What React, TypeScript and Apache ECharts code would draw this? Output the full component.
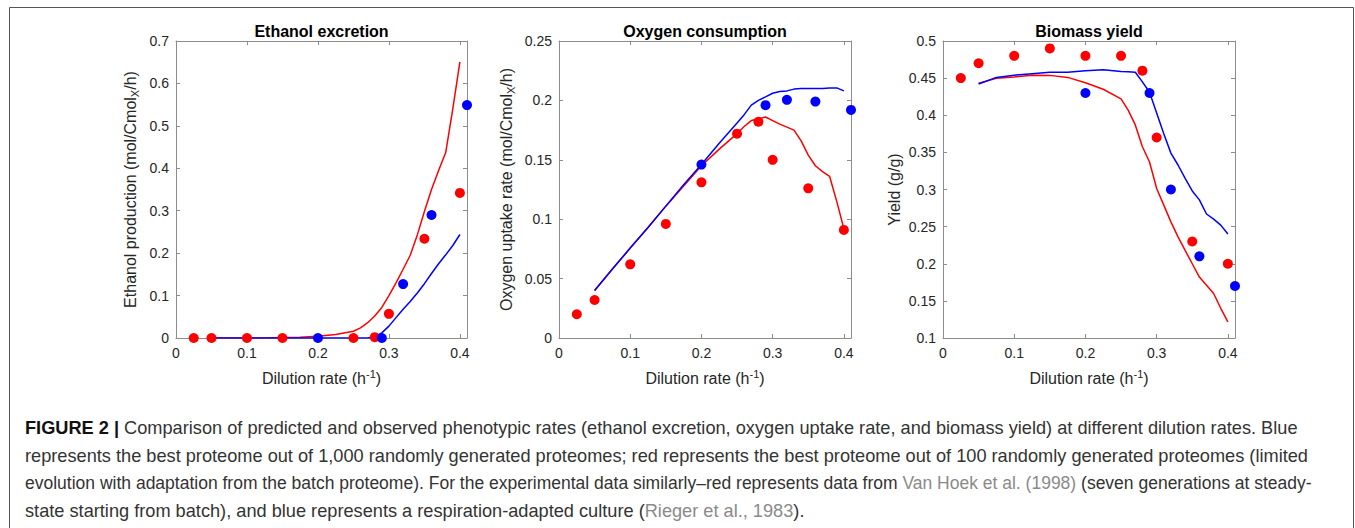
import React, { useEffect, useRef } from "react";
import * as echarts from "echarts";

// ---------- data ----------
const modelX = [0.05, 0.075, 0.1, 0.125, 0.15, 0.175, 0.2, 0.225, 0.25, 0.26, 0.27, 0.28, 0.29, 0.3, 0.31, 0.32, 0.33, 0.34, 0.35, 0.36, 0.37, 0.38, 0.39, 0.4];

// Ethanol excretion
const ethRedModel = [0, 0, 0, 0, 0.001, 0.002, 0.004, 0.008, 0.016, 0.024, 0.036, 0.052, 0.072, 0.1, 0.13, 0.162, 0.195, 0.243, 0.298, 0.35, 0.395, 0.437, 0.54, 0.651];
const ethBlueModel = [0, 0, 0, 0, 0, 0, 0, 0, 0, 0, 0, 0.003, 0.012, 0.028, 0.048, 0.068, 0.086, 0.106, 0.128, 0.152, 0.175, 0.196, 0.218, 0.244];
const ethRedObsX = [0.025, 0.05, 0.1, 0.15, 0.25, 0.28, 0.3, 0.35, 0.4];
const ethRedObsY = [0, 0, 0, 0, 0, 0.002, 0.057, 0.234, 0.342];
const ethBlueObsX = [0.2, 0.29, 0.32, 0.36, 0.41];
const ethBlueObsY = [0, 0, 0.127, 0.29, 0.549];

// Oxygen consumption
const oxyRedModel = [0.04, 0.058, 0.0757, 0.093, 0.111, 0.128, 0.145, 0.159, 0.172, 0.178, 0.183, 0.1845, 0.186, 0.183, 0.18, 0.1775, 0.175, 0.166, 0.154, 0.145, 0.14, 0.136, 0.115, 0.092];
const oxyBlueModel = [0.04, 0.058, 0.0757, 0.093, 0.111, 0.129, 0.146, 0.164, 0.181, 0.188, 0.196, 0.2, 0.203, 0.206, 0.2075, 0.208, 0.2095, 0.21, 0.21, 0.21, 0.21, 0.2105, 0.2105, 0.208];
const oxyRedObsX = [0.025, 0.05, 0.1, 0.15, 0.2, 0.25, 0.28, 0.3, 0.35, 0.4];
const oxyRedObsY = [0.02, 0.032, 0.062, 0.096, 0.131, 0.172, 0.182, 0.15, 0.126, 0.091];
const oxyBlueObsX = [0.2, 0.29, 0.32, 0.36, 0.41];
const oxyBlueObsY = [0.146, 0.196, 0.2005, 0.199, 0.192];

// Biomass yield
const yldRedModel = [0.443, 0.4497, 0.4515, 0.454, 0.4537, 0.451, 0.4438, 0.435, 0.422, 0.407, 0.387, 0.3575, 0.337, 0.3013, 0.279, 0.2564, 0.2362, 0.218, 0.2, 0.182, 0.171, 0.16, 0.14, 0.1216];
const yldBlueModel = [0.442, 0.451, 0.454, 0.456, 0.458, 0.458, 0.46, 0.4613, 0.459, 0.4585, 0.458, 0.445, 0.431, 0.403, 0.375, 0.349, 0.333, 0.315, 0.298, 0.286, 0.267, 0.26, 0.252, 0.24];
const yldRedObsX = [0.025, 0.05, 0.1, 0.15, 0.2, 0.25, 0.28, 0.3, 0.35, 0.4];
const yldRedObsY = [0.45, 0.47, 0.48, 0.49, 0.48, 0.48, 0.46, 0.37, 0.23, 0.2];
const yldBlueObsX = [0.2, 0.29, 0.32, 0.36, 0.41];
const yldBlueObsY = [0.43, 0.43, 0.3, 0.21, 0.17];

const panelTitles = ["Ethanol excretion", "Oxygen consumption", "Biomass yield"];
const yNames = [
  "Ethanol production (mol/Cmol{sub|X}/h)",
  "Oxygen uptake rate (mol/Cmol{sub|X}/h)",
  "Yield (g/g)",
];
const xName = "Dilution rate (h{sup|-1})";
const xMin = 0, xMax = 0.41, xStep = 0.1;
const yMins = [0, 0, 0.1];
const yMaxs = [0.7, 0.25, 0.5];
const ySteps = [0.1, 0.05, 0.05];

const captionLines = [
  "{b|FIGURE 2 |} Comparison of predicted and observed phenotypic rates (ethanol excretion, oxygen uptake rate, and biomass yield) at different dilution rates. Blue",
  "represents the best proteome out of 1,000 randomly generated proteomes; red represents the best proteome out of 100 randomly generated proteomes (limited",
  "evolution with adaptation from the batch proteome). For the experimental data similarly\u2013red represents data from {l|Van Hoek et al. (1998)} (seven generations at steady-",
  "state starting from batch), and blue represents a respiration-adapted culture ({l|Rieger et al., 1983}).",
];

// ---------- layout / style ----------
const FONT = '"Liberation Sans", Arial, Helvetica, sans-serif';
const AXIS = "#8c8c8c";
const TXT = "#262626";
const RED = "#ff0000";
const BLUE = "#0000ff";
const CAP_SIZES = [18.2, 18.2, 17.5, 18.2];
const grids = [
  { left: 176, top: 41, width: 291, height: 297, nameGap: 36 },
  { left: 559, top: 41, width: 292, height: 297, nameGap: 43 },
  { left: 943, top: 41, width: 292, height: 297, nameGap: 36 },
];

const zip = (xs: number[], ys: number[]) => xs.map((x, i) => [x, ys[i]]);

const panelData = [
  { red: ethRedModel, blue: ethBlueModel, rx: ethRedObsX, ry: ethRedObsY, bx: ethBlueObsX, by: ethBlueObsY },
  { red: oxyRedModel, blue: oxyBlueModel, rx: oxyRedObsX, ry: oxyRedObsY, bx: oxyBlueObsX, by: oxyBlueObsY },
  { red: yldRedModel, blue: yldBlueModel, rx: yldRedObsX, ry: yldRedObsY, bx: yldBlueObsX, by: yldBlueObsY },
];

const richSmall = {
  sub: { fontSize: 11, lineHeight: 11, verticalAlign: "bottom", fontFamily: FONT, color: TXT },
  sup: { fontSize: 11, lineHeight: 11, verticalAlign: "top", fontFamily: FONT, color: TXT },
};

function buildOption() {
  const xAxis: any[] = [];
  const yAxis: any[] = [];
  const series: any[] = [];
  const graphic: any[] = [];
  grids.forEach((g, i) => {
    const common = {
      gridIndex: i,
      type: "value",
      axisLine: { show: true, onZero: false, lineStyle: { color: AXIS, width: 1 } },
      axisTick: { show: true, inside: true, length: 4, lineStyle: { color: AXIS } },
      splitLine: { show: false },
    };
    xAxis.push({
      ...common,
      position: "bottom",
      min: xMin,
      max: xMax,
      interval: xStep,
      axisLabel: { show: true, margin: 8, fontSize: 14, fontFamily: FONT, color: TXT, showMaxLabel: false },
      name: xName,
      nameLocation: "middle",
      nameGap: 30,
      nameTextStyle: { fontSize: 16, fontFamily: FONT, color: TXT, lineHeight: 20, rich: richSmall },
    });
    xAxis.push({
      ...common,
      position: "top",
      min: xMin,
      max: xMax,
      interval: xStep,
      axisLabel: { show: false },
    });
    yAxis.push({
      ...common,
      position: "left",
      min: yMins[i],
      max: yMaxs[i],
      interval: ySteps[i],
      axisLabel: { show: true, margin: 7, fontSize: 14, fontFamily: FONT, color: TXT },
      name: yNames[i],
      nameLocation: "middle",
      nameGap: g.nameGap,
      nameRotate: 90,
      nameTextStyle: { fontSize: 16, fontFamily: FONT, color: TXT, lineHeight: 20, rich: richSmall },
    });
    yAxis.push({
      ...common,
      position: "right",
      min: yMins[i],
      max: yMaxs[i],
      interval: ySteps[i],
      axisLabel: { show: false },
    });
    const d = panelData[i];
    const base = { xAxisIndex: 2 * i, yAxisIndex: 2 * i, silent: true, animation: false };
    series.push({ ...base, type: "line", data: zip(modelX, d.red), symbol: "none", lineStyle: { color: RED, width: 1.5 }, z: 2 });
    series.push({ ...base, type: "line", data: zip(modelX, d.blue), symbol: "none", lineStyle: { color: BLUE, width: 1.5 }, z: 3 });
    series.push({ ...base, type: "scatter", data: zip(d.rx, d.ry), symbol: "circle", symbolSize: 10, itemStyle: { color: RED, opacity: 1 }, clip: false, z: 4 });
    series.push({ ...base, type: "scatter", data: zip(d.bx, d.by), symbol: "circle", symbolSize: 10, itemStyle: { color: BLUE, opacity: 1 }, clip: false, z: 5 });

    graphic.push({
      type: "text",
      x: g.left + g.width / 2,
      y: 31,
      silent: true,
      style: {
        text: panelTitles[i],
        fontSize: 16,
        fontWeight: "bold",
        fontFamily: FONT,
        font: `bold 16px ${FONT}`,
        fill: "#000",
        align: "center",
        textAlign: "center",
        verticalAlign: "middle",
        textVerticalAlign: "middle",
      },
    });
  });

  // figure frame
  graphic.push({
    type: "polyline",
    silent: true,
    shape: { points: [[9.5, 528], [9.5, 7.5], [1353.5, 7.5], [1353.5, 528]] },
    style: { stroke: "#555", lineWidth: 1, fill: null },
  });

  captionLines.forEach((line, k) => {
    const size = CAP_SIZES[k];
    const capFont = { fontSize: size, fontFamily: FONT };
    graphic.push({
      type: "text",
      x: 25,
      y: 428 + k * 27.5,
      silent: true,
      style: {
        text: line,
        ...capFont,
        fontWeight: "normal",
        font: `${size}px ${FONT}`,
        fill: "#333",
        align: "left",
        textAlign: "left",
        verticalAlign: "middle",
        textVerticalAlign: "middle",
        rich: {
          b: { ...capFont, fontWeight: "bold", font: `bold ${size}px ${FONT}`, fill: "#111" },
          l: { ...capFont, fontWeight: "normal", font: `${size}px ${FONT}`, fill: "#8a8a8a" },
        },
      },
    });
  });

  return {
    animation: false,
    backgroundColor: "#fff",
    grid: grids.map((g) => ({ left: g.left, top: g.top, width: g.width, height: g.height, containLabel: false })),
    xAxis,
    yAxis,
    series,
    graphic,
  };
}

export default function App() {
  const ref = useRef<HTMLDivElement>(null);
  useEffect(() => {
    if (!ref.current) return;
    const chart = echarts.init(ref.current, null, { renderer: "svg" });
    chart.setOption(buildOption() as any);
    return () => chart.dispose();
  }, []);
  return (
    <div
      ref={ref}
      style={{ position: "absolute", left: 0, top: 0, width: 1355, height: 528, background: "#fff" }}
    />
  );
}
